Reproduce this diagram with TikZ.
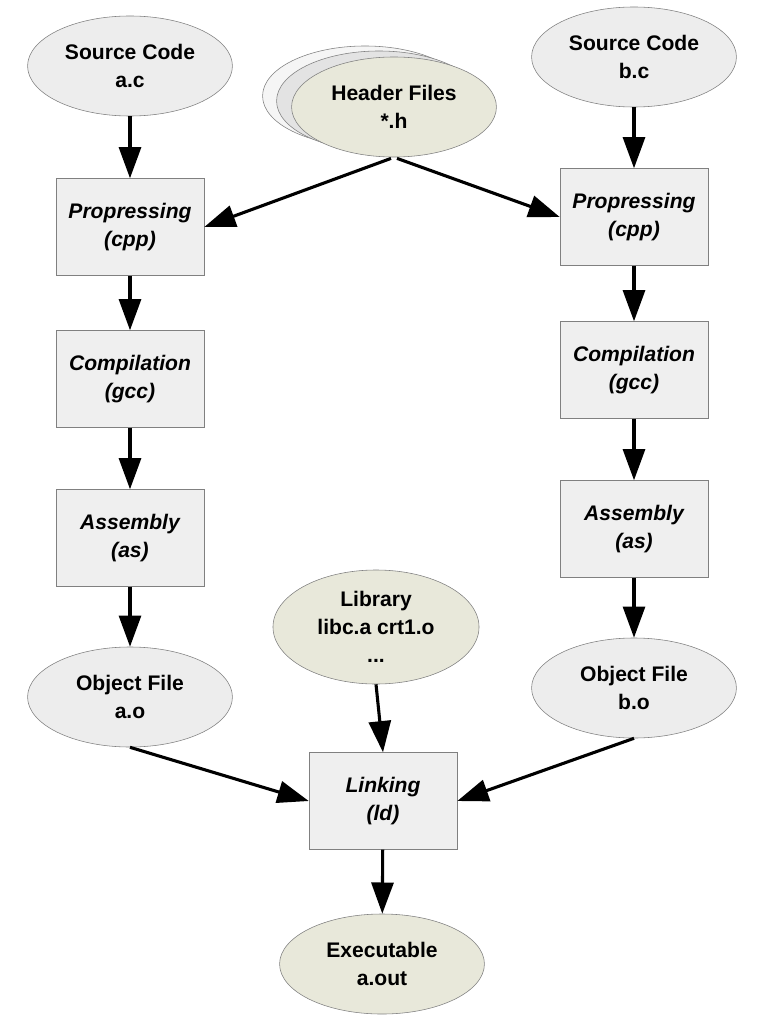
\documentclass[tikz,border=0pt]{standalone}
\usepackage{fontspec}
\setmainfont{Liberation Sans}
\usepackage{xcolor}
\usetikzlibrary{shapes.geometric,arrows.meta,positioning}

\definecolor{boxfill}{HTML}{EFEFEF}
\definecolor{ellfill}{HTML}{EDEDED}
\definecolor{beigefill}{HTML}{E8E8DA}
\definecolor{edgegray}{HTML}{808080}

\begin{document}
\begin{tikzpicture}[
    x=0.025cm, y=-0.025cm,
    stage/.style={rectangle, draw=edgegray, fill=boxfill, minimum width=3.7cm, minimum height=2.42cm, align=center, font=\fontsize{15}{20}\selectfont\bfseries\itshape},
    file/.style={ellipse, draw=edgegray, fill=ellfill, inner sep=0pt, minimum width=5.12cm, minimum height=2.5cm, align=center, font=\fontsize{15}{20}\selectfont\bfseries},
    extfile/.style={file, fill=beigefill},
    arrow/.style={-{Triangle[length=0.78cm, width=0.55cm]}, line width=2.2pt},
]
    \useasboundingbox (0,0) rectangle (768,1024);

    % header files stack
    \node[file, fill=white!96!black] (hdr3) at (365,96) {};
    \node[file, fill=white!89!black] (hdr2) at (379,101) {};
    \node[extfile] (hdr) at (394,107) {Header Files\\*.h};

    % left column
    \node[file] (srca) at (130,66) {Source Code\\a.c};
    \node[stage] (ppa) at (130,227) {Propressing\\(cpp)};
    \node[stage] (cpa) at (130,379) {Compilation\\(gcc)};
    \node[stage] (asa) at (130,538) {Assembly\\(as)};
    \node[file] (oba) at (130,697) {Object File\\a.o};

    % right column
    \node[file] (srcb) at (634,57) {Source Code\\b.c};
    \node[stage] (ppb) at (634,217) {Propressing\\(cpp)};
    \node[stage] (cpb) at (634,370) {Compilation\\(gcc)};
    \node[stage] (asb) at (634,529) {Assembly\\(as)};
    \node[file] (obb) at (634,688) {Object File\\b.o};

    % linking
    \node[extfile, minimum width=5.15cm, minimum height=2.85cm] (lib) at (376,627) {Library\\libc.a crt1.o\\...};
    \node[stage] (lnk) at (383,801) {Linking\\(ld)};
    \node[extfile] (exe) at (382,964) {Executable\\a.out};

    \draw[arrow] (srca) -- (ppa);
    \draw[arrow] (ppa) -- (cpa);
    \draw[arrow] (cpa) -- (asa);
    \draw[arrow] (asa) -- (oba);

    \draw[arrow] (srcb) -- (ppb);
    \draw[arrow] (ppb) -- (cpb);
    \draw[arrow] (cpb) -- (asb);
    \draw[arrow] (asb) -- (obb);

    \draw[arrow, shorten <=0.08cm] (hdr.south) -- (ppa.east);
    \draw[arrow, shorten <=0.08cm] (hdr.south) -- (ppb.west);

    \draw[arrow] (oba.south) -- (lnk.west);
    \draw[arrow] (obb.south) -- (lnk.east);
    \draw[arrow] (lib.south) -- (lnk.north);
    \draw[arrow] (lnk) -- (exe);
\end{tikzpicture}
\end{document}
